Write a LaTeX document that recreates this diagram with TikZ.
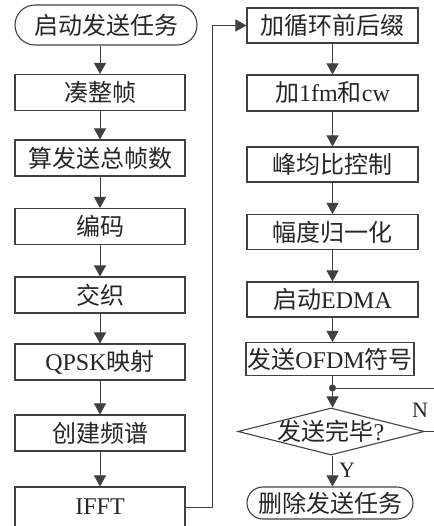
\documentclass[tikz,border=0pt]{standalone}
\usepackage{fontspec}
\setmainfont{Liberation Serif}
\newfontfamily\cjk{Noto Sans CJK SC}
\usetikzlibrary{shapes.geometric,shapes.misc,arrows.meta}
\definecolor{ln}{HTML}{404040}
\definecolor{tx}{HTML}{262626}
\newcommand{\zh}[1]{{\cjk #1}}
\begin{document}
\begin{tikzpicture}[x=1pt,y=-1pt,
  box/.style={draw=ln, line width=1.1pt, minimum width=170pt, minimum height=36pt, inner sep=0pt,
    font=\fontsize{24}{28}\selectfont, text=tx},
  term/.style={box, rounded rectangle},
  dia/.style={draw=ln, line width=1.1pt, diamond, minimum width=186pt, minimum height=47pt, inner sep=0pt},
  lbl/.style={font=\fontsize{22}{25}\selectfont, text=tx, inner sep=0pt},
  flow/.style={draw=ln, line width=0.9pt, -{Triangle[length=11pt,width=12pt]}},
  plain/.style={draw=ln, line width=0.9pt}]
\useasboundingbox (0,0) rectangle (433,526);
% left column
\node[term, minimum width=182pt, minimum height=40pt] (s) at (106,25) {\zh{启动发送任务}};
\node[box] (b1) at (100,92.5) {\zh{凑整帧}};
\node[box] (b2) at (100,158) {\zh{算发送总帧数}};
\node[box] (b3) at (100,226.5) {\zh{编码}};
\node[box] (b4) at (100,295) {\zh{交织}};
\node[box] (b5) at (100,362) {QPSK\zh{映射}};
\node[box] (b6) at (100,433) {\zh{创建频谱}};
\node[box, minimum height=40pt] (b7) at (100,507) {IFFT};
% right column
\node[box, minimum width=171pt, minimum height=35pt] (r1) at (332.5,25.5) {\zh{加循环前后缀}};
\node[box, minimum width=171pt, minimum height=36pt] (r2) at (332.5,93) {\zh{加}1fm\zh{和}cw};
\node[box, minimum width=171pt, minimum height=35pt] (r3) at (332.5,164.5) {\zh{峰均比控制}};
\node[box, minimum width=171pt, minimum height=35pt] (r4) at (332.5,232) {\zh{幅度归一化}};
\node[box, minimum width=171pt, minimum height=35pt] (r5) at (332.5,299.5) {\zh{启动}EDMA};
\node[box, minimum width=168pt, minimum height=33pt] (r6) at (330,359) {\zh{发送}OFDM\zh{符号}};
\coordinate (j) at (332.5,388);
\node[dia, label={[lbl, font=\fontsize{24}{28}\selectfont]center:\zh{发送完毕}?}] (d) at (331,431.5) {};
\node[term, minimum width=166pt, minimum height=32pt] (e) at (330,503) {\zh{删除发送任务}};
% connectors left
\draw[flow] (s.south -| b1.north) -- (b1.north);
\draw[flow] (b1) -- (b2);
\draw[flow] (b2) -- (b3);
\draw[flow] (b3) -- (b4);
\draw[flow] (b4) -- (b5);
\draw[flow] (b5) -- (b6);
\draw[flow] (b6) -- (b7);
\draw[flow] (b7.east) -- ++(27,0) |- (r1.west);
% connectors right
\draw[flow] (r1.south) -- (r2.north);
\draw[flow] (r2.south) -- (r3.north);
\draw[flow] (r3.south) -- (r4.north);
\draw[flow] (r4.south) -- (r5.north);
\draw[flow] (r5.south) -- (r6.north -| r5.south);
\draw[flow] (r6.south -| j) -- (j) -- (d.north -| j);
\fill[ln] (j) circle (3.5pt);
\draw[plain] (d.east) -- ++(16,0) |- (j);
\node[lbl] (nl) at (420,410) {N};
\draw[flow] (d.south -| j) -- (e.north -| j);
\node[lbl] (yl) at (347,470) {Y};
\end{tikzpicture}
\end{document}
